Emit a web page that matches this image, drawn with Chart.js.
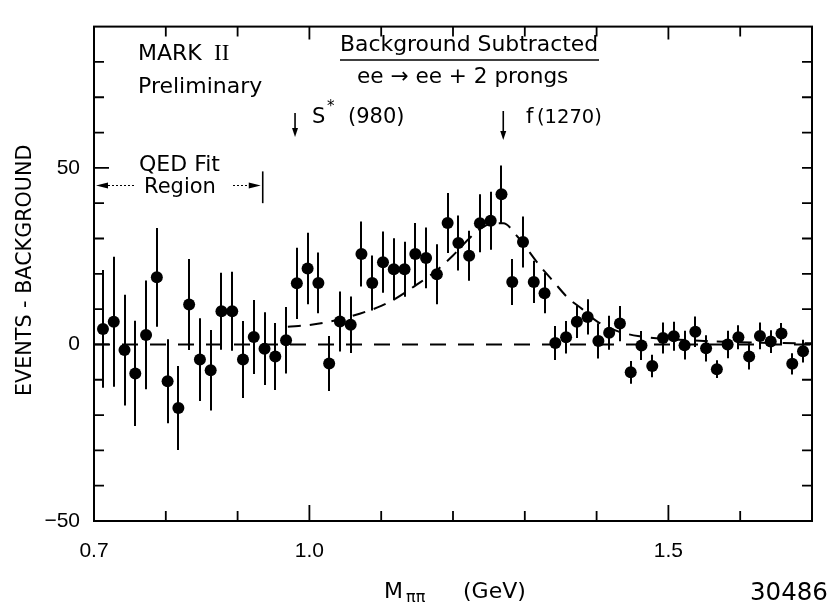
<!DOCTYPE html>
<html>
<head>
<meta charset="utf-8">
<script src="https://cdn.jsdelivr.net/npm/chart.js@4.4.1/dist/chart.umd.min.js"></script>
<style>
  html, body { margin: 0; padding: 0; background: #fff; }
  #wrap { width: 830px; height: 604px; }
</style>
</head>
<body>
<div id="wrap"><canvas id="myChart" width="830" height="604"></canvas></div>
<script>
// bin centres (GeV), 15 MeV bins
const massBins = [
  0.7125, 0.7275, 0.7425, 0.7575, 0.7725, 0.7875, 0.8025, 0.8175, 0.8325, 0.8475,
  0.8625, 0.8775, 0.8925, 0.9075, 0.9225, 0.9375, 0.9525, 0.9675, 0.9825, 0.9975,
  1.0125, 1.0275, 1.0425, 1.0575, 1.0725, 1.0875, 1.1025, 1.1175, 1.1325, 1.1475,
  1.1625, 1.1775, 1.1925, 1.2075, 1.2225, 1.2375, 1.2525, 1.2675, 1.2825, 1.2975,
  1.3125, 1.3275, 1.3425, 1.3575, 1.3725, 1.3875, 1.4025, 1.4175, 1.4325, 1.4475,
  1.4625, 1.4775, 1.4925, 1.5075, 1.5225, 1.5375, 1.5525, 1.5675, 1.5825, 1.5975,
  1.6125, 1.6275, 1.6425, 1.6575, 1.6725, 1.6875
];
const events = [
  4.4, 6.4, -1.6, -8.2, 2.7, 19.0, -10.4, -18.0, 11.3, -4.3,
  -7.3, 9.4, 9.4, -4.3, 2.1, -1.2, -3.4, 1.2, 17.3, 21.5,
  17.4, -5.4, 6.5, 5.6, 25.6, 17.4, 23.3, 21.3, 21.3, 25.6,
  24.5, 19.9, 34.4, 28.7, 25.1, 34.3, 35.0, 42.5, 17.7, 29.0,
  17.7, 14.5, 0.4, 2.0, 6.4, 7.8, 1.0, 3.3, 5.9, -7.9,
  -0.3, -6.1, 1.8, 2.3, -0.2, 3.6, -1.1, -7.0, 0.0, 2.0,
  -3.4, 2.4, 0.8, 3.1, -5.5, -1.9
];
const errors = [
  16.7, 18.4, 15.7, 14.9, 15.4, 14.0, 11.9, 11.9, 12.9, 11.7,
  11.4, 10.9, 11.2, 10.9, 10.5, 10.3, 9.5, 9.4, 10.1, 10.1,
  8.6, 7.8, 8.5, 8.0, 9.2, 7.8, 8.7, 8.8, 7.8, 8.8,
  8.6, 8.5, 8.5, 7.8, 7.1, 8.2, 8.2, 8.2, 6.5, 7.2,
  6.0, 5.7, 4.8, 4.6, 4.6, 5.0, 5.0, 4.8, 5.0, 3.2,
  4.1, 3.2, 4.4, 4.1, 4.1, 4.3, 3.7, 2.5, 3.9, 3.4,
  3.7, 3.8, 3.2, 3.0, 3.0, 3.2
];
// dashed fit curve
const fitMass = [0.97, 1.00, 1.04, 1.07, 1.10, 1.12, 1.15, 1.175, 1.20, 1.225, 1.24, 1.255, 1.27,
  1.29, 1.32, 1.34, 1.36, 1.38, 1.40, 1.43, 1.46, 1.50, 1.55, 1.60, 1.65, 1.70];
const fitEvents = [5.0, 5.5, 7.0, 8.7, 10.9, 13.0, 17.0, 20.6, 25.2, 30.5, 33.0, 34.2, 34.3,
  30.5, 22.5, 17.8, 13.2, 10.0, 6.6, 3.7, 2.3, 1.5, 1.0, 0.6, 0.4, 0.3];
const baseMass = [0.7, 1.7];
const baseEvents = [0, 0];
const xTickLabels = ['0.7', '1.0', '1.5'];
const yTickLabels = ['-50', '0', '50'];
const qedRange = [0.7, 0.935];
const qedLevel = 45;
const markerMass = [0.98, 1.27];

const AREA = { left: 94, right: 816, top: 10, bottom: 521 };
const W = 830, H = 604;
const SANS = '"DejaVu Sans", sans-serif';

function fitText(ctx, text, x, y, width, family) {
  ctx.font = '20px ' + family;
  const size = 20 * width / ctx.measureText(text).width;
  ctx.font = size.toFixed(1) + 'px ' + family;
  ctx.fillText(text, x, y);
}

function text(ctx, str, x, y, size, family) {
  ctx.font = size + 'px ' + (family || SANS);
  ctx.fillText(str, x, y);
}

function arrowHead(ctx, x, y, dir, len, half) {
  ctx.beginPath();
  if (dir === 'down') {
    ctx.moveTo(x, y); ctx.lineTo(x - half, y - len); ctx.lineTo(x + half, y - len);
  } else if (dir === 'left') {
    ctx.moveTo(x, y); ctx.lineTo(x + len, y - half); ctx.lineTo(x + len, y + half);
  } else {
    ctx.moveTo(x, y); ctx.lineTo(x - len, y - half); ctx.lineTo(x - len, y + half);
  }
  ctx.closePath();
  ctx.fill();
}

const errorBars = {
  id: 'errorBars',
  beforeDatasetsDraw(chart) {
    const { ctx, chartArea, scales: { x, y } } = chart;
    ctx.save();
    ctx.beginPath();
    ctx.rect(chartArea.left, chartArea.top, chartArea.width, chartArea.height);
    ctx.clip();
    ctx.strokeStyle = '#000';
    ctx.lineWidth = 2;
    massBins.forEach((m, i) => {
      const px = Math.round(x.getPixelForValue(m));
      ctx.beginPath();
      ctx.moveTo(px, y.getPixelForValue(events[i] + errors[i]));
      ctx.lineTo(px, y.getPixelForValue(events[i] - errors[i]));
      ctx.stroke();
    });
    ctx.restore();
  }
};

const frame = {
  id: 'frame',
  afterDraw(chart) {
    const { ctx, chartArea: a, scales: { x, y } } = chart;
    ctx.save();
    ctx.strokeStyle = '#000';
    ctx.fillStyle = '#000';
    ctx.lineWidth = 2;
    ctx.strokeRect(a.left, a.top, a.right - a.left, a.bottom - a.top);

    // inward ticks on all four sides
    ctx.lineWidth = 1.8;
    x.ticks.forEach(t => {
      const v = Math.round(t.value * 10) / 10;
      if (v <= 0.7 || v >= 1.7) return;
      const px = x.getPixelForValue(v);
      const big = xTickLabels.includes(v.toFixed(1));
      ctx.beginPath();
      ctx.moveTo(px, a.bottom); ctx.lineTo(px, a.bottom - (big ? 16 : 10));
      ctx.moveTo(px, a.top); ctx.lineTo(px, a.top + (big ? 13 : 10));
      ctx.stroke();
    });
    y.ticks.forEach(t => {
      const v = t.value;
      if (v <= -50 || v >= 90) return;
      const py = y.getPixelForValue(v);
      const big = yTickLabels.includes(String(v));
      ctx.beginPath();
      ctx.moveTo(a.left, py); ctx.lineTo(a.left + (big ? 15 : 10), py);
      ctx.moveTo(a.right, py); ctx.lineTo(a.right - 10, py);
      ctx.stroke();
    });

    ctx.textAlign = 'left';
    ctx.textBaseline = 'alphabetic';

    // top-left labels
    text(ctx, 'MARK', 138, 60, 22);
    text(ctx, 'II', 214, 60, 23, '"Liberation Serif", serif');
    text(ctx, 'Preliminary', 138, 93, 22);

    // process label
    fitText(ctx, 'Background Subtracted', 340, 51, 258, SANS);
    ctx.lineWidth = 1.5;
    ctx.beginPath(); ctx.moveTo(340, 60); ctx.lineTo(599, 60); ctx.stroke();
    fitText(ctx, 'ee \u2192 ee + 2 prongs', 357, 83, 211, SANS);

    // resonance markers
    ctx.lineWidth = 1.6;
    markerMass.forEach((m, k) => {
      const px = x.getPixelForValue(m);
      const y0 = k === 0 ? 113 : 111, y1 = k === 0 ? 137 : 140;
      ctx.beginPath(); ctx.moveTo(px, y0); ctx.lineTo(px, y1 - 6); ctx.stroke();
      arrowHead(ctx, px, y1, 'down', 9, 3);
    });
    text(ctx, 'S', 312, 123, 21);
    text(ctx, '*', 327, 111, 15);
    text(ctx, '(980)', 348, 123, 21);
    text(ctx, 'f', 526, 123, 21);
    text(ctx, '(1270)', 537, 123, 19.5);

    // QED fit region
    text(ctx, 'QED Fit', 139, 171, 22);
    text(ctx, 'Region', 144, 193, 21);
    const qy = y.getPixelForValue(qedLevel);
    const qx0 = x.getPixelForValue(qedRange[0]);
    const qx1 = x.getPixelForValue(qedRange[1]);
    ctx.lineWidth = 1.2;
    ctx.setLineDash([2, 2]);
    ctx.beginPath();
    ctx.moveTo(qx0 + 10, qy); ctx.lineTo(136, qy);
    ctx.moveTo(233, qy); ctx.lineTo(qx1 - 8, qy);
    ctx.stroke();
    ctx.setLineDash([]);
    arrowHead(ctx, qx0 + 2, qy, 'left', 12, 3);
    arrowHead(ctx, qx1 - 2, qy, 'right', 12, 3);
    ctx.lineWidth = 1.6;
    ctx.beginPath();
    ctx.moveTo(qx1, y.getPixelForValue(qedLevel + 4)); ctx.lineTo(qx1, y.getPixelForValue(qedLevel - 5));
    ctx.stroke();

    // axis titles
    text(ctx, 'M', 384, 598, 22);
    text(ctx, '\u03c0\u03c0', 406, 602, 16);
    text(ctx, '(GeV)', 463, 598, 22);
    fitText(ctx, '30486', 750, 600, 78, SANS);

    ctx.save();
    ctx.translate(31, 270);
    ctx.rotate(-Math.PI / 2);
    fitText(ctx, 'EVENTS - BACKGROUND', -126, 0, 252, SANS);
    ctx.restore();

    ctx.restore();
  }
};

const ctx = document.getElementById('myChart').getContext('2d');

const chart = new Chart(ctx, {
  type: 'scatter',
  data: {
    datasets: [
      {
        label: 'data',
        data: massBins.map((m, i) => ({ x: m, y: events[i] })),
        pointRadius: 6,
        pointBackgroundColor: '#000',
        pointBorderColor: '#000',
        pointBorderWidth: 0,
        showLine: false,
        order: 0
      },
      {
        label: 'fit',
        data: fitMass.map((m, i) => ({ x: m, y: fitEvents[i] })),
        showLine: true,
        borderColor: '#000',
        borderWidth: 2,
        borderDash: [13, 9],
        pointRadius: 0,
        cubicInterpolationMode: 'monotone',
        order: 1
      },
      {
        label: 'zero',
        data: baseMass.map((m, i) => ({ x: m, y: baseEvents[i] })),
        showLine: true,
        borderColor: '#000',
        borderWidth: 2,
        borderDash: [16, 12],
        pointRadius: 0,
        order: 2
      }
    ]
  },
  options: {
    responsive: false,
    animation: false,
    layout: { padding: { top: AREA.top, right: W - AREA.right, left: 0, bottom: 0 } },
    plugins: { legend: { display: false }, tooltip: { enabled: false } },
    scales: {
      x: {
        type: 'linear',
        min: 0.7,
        max: 1.7,
        grid: { display: false, drawTicks: false },
        border: { display: false },
        ticks: {
          stepSize: 0.1,
          autoSkip: false,
          maxRotation: 0,
          padding: 18,
          color: '#000',
          font: { family: '"Liberation Sans", sans-serif', size: 21 },
          callback: v => {
            const s = (Math.round(v * 10) / 10).toFixed(1);
            return xTickLabels.includes(s) ? s : '';
          }
        },
        afterFit: s => { s.height = H - AREA.bottom; }
      },
      y: {
        min: -50,
        max: 90,
        grid: { display: false, drawTicks: false },
        border: { display: false },
        ticks: {
          stepSize: 10,
          autoSkip: false,
          padding: 14,
          color: '#000',
          font: { family: '"Liberation Sans", sans-serif', size: 21 },
          callback: v => {
            const s = String(Math.round(v));
            if (!yTickLabels.includes(s)) return '';
            return v < 0 ? '\u2212' + Math.abs(v) : s;
          }
        },
        afterFit: s => { s.width = AREA.left; }
      }
    }
  },
  plugins: [errorBars, frame]
});
</script>
</body>
</html>
